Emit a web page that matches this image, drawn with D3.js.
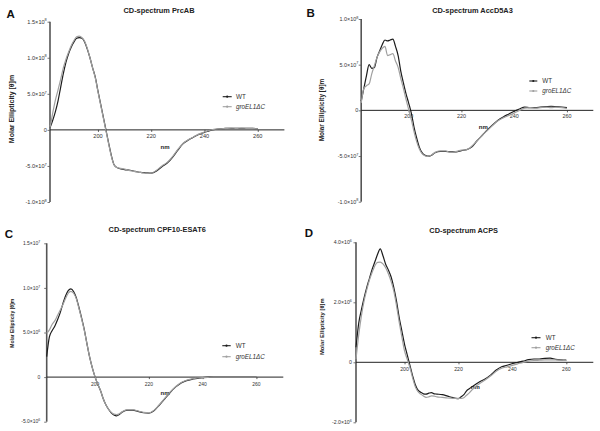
<!DOCTYPE html>
<html><head><meta charset="utf-8">
<script src="https://cdn.jsdelivr.net/npm/d3@7"></script>
<style>body{margin:0;background:#fff} svg{display:block} text{font-family:"Liberation Sans",Arial,sans-serif}</style>
</head><body><svg id="c" width="600" height="431"></svg>
<script>
// ---------- data ----------
const seriesNames = ["WT", "groEL1ΔC"];
const panelLetters = ["A", "B", "C", "D"];
const panelTitles = ["CD-spectrum PrcAB", "CD-spectrum AccD5A3", "CD-spectrum CPF10-ESAT6", "CD-spectrum ACPS"];
const xTicks = [200, 220, 240, 260];
const xDomain = [182, 270];

// Panel A (values x 1e7)
const nmA = [182,183,184,185,186,187,188,189,190,191,192,193,194,195,196,197,198,199,200,201,202,203,204,205,206,207,208,210,212,214,216,218,220,222,224,226,228,230,232,234,236,238,240,242,244,246,248,250,252,254,256,258,260];
const wtA = [0.3,1.3,2.5,4.0,5.9,7.8,9.4,10.6,11.5,12.2,12.7,12.8,12.7,12.2,11.2,10.0,8.6,7.3,5.4,3.6,1.8,0.0,-1.8,-3.5,-4.8,-5.2,-5.35,-5.5,-5.6,-5.75,-5.9,-5.95,-6.0,-5.7,-5.1,-4.6,-3.8,-2.8,-1.9,-1.4,-1.0,-0.6,-0.35,-0.1,0.05,0.15,0.2,0.2,0.2,0.2,0.2,0.2,0.15];
const grA = [0.3,2.3,4.1,5.5,7.0,8.6,9.8,10.8,11.7,12.4,12.9,13.0,12.8,12.3,11.3,10.0,8.6,7.2,5.3,3.5,1.7,-0.1,-1.9,-3.6,-4.8,-5.2,-5.3,-5.45,-5.65,-5.8,-5.9,-6.0,-6.0,-5.6,-5.0,-4.5,-3.7,-2.7,-1.85,-1.35,-0.95,-0.55,-0.3,-0.05,0.1,0.15,0.2,0.25,0.2,0.25,0.2,0.2,0.15];
const yTicksA = [-10, -5, 0, 5, 10, 15];
const yLabelsA = [["-1.0","8"],["-5.0","7"],["0",""],["5.0","7"],["1.0","8"],["1.5","8"]];

// Panel B (values x 1e7)
const nmB = [182,183,184,185,186,187,188,189,190,191,192,193,194,195,196,197,198,199,200,201,202,203,204,205,206,207,208,209,210,212,214,216,218,220,222,224,226,228,230,232,234,236,238,240,242,244,246,248,250,252,254,256,258,260];
const wtB = [1.0,2.4,3.8,5.0,4.6,4.7,5.8,6.5,7.2,7.7,7.6,7.7,7.8,7.0,6.0,4.3,3.0,1.8,0.8,-0.3,-1.8,-3.0,-4.0,-4.6,-4.9,-5.0,-5.0,-4.85,-4.65,-4.5,-4.5,-4.55,-4.55,-4.4,-4.3,-4.0,-3.3,-2.7,-2.1,-1.55,-1.05,-0.7,-0.4,-0.1,0.15,0.35,0.3,0.3,0.35,0.4,0.45,0.4,0.35,0.3];
const grB = [0.8,2.4,2.7,2.9,4.0,4.9,5.8,6.4,6.8,7.0,6.0,6.1,6.2,5.4,4.7,3.5,2.4,1.2,0.1,-1.0,-2.3,-3.4,-4.2,-4.7,-4.95,-5.05,-5.0,-4.8,-4.6,-4.45,-4.45,-4.6,-4.5,-4.35,-4.3,-3.9,-3.3,-2.7,-2.15,-1.6,-1.1,-0.8,-0.55,-0.3,0.0,0.25,0.3,0.25,0.3,0.35,0.3,0.35,0.3,0.2];
const yTicksB = [-10, -5, 0, 5, 10];
const yLabelsB = [["-1.0","8"],["-5.0","7"],["0",""],["5.0","7"],["1.0","8"]];

// Panel C (values x 1e6)
const nmC = [182,183,184,185,186,187,188,189,190,191,192,193,194,195,196,197,198,199,200,201,202,203,204,205,206,207,208,209,210,212,214,216,218,220,222,224,226,228,230,232,234,236,238,240,242,244,246,248,250,252,254,256,258,260];
const wtC = [2.3,4.5,5.2,5.7,6.4,7.2,8.2,9.1,9.7,9.9,9.6,8.9,7.8,6.6,5.3,3.7,2.2,1.0,0.0,-0.8,-1.5,-2.4,-3.1,-3.6,-4.0,-4.25,-4.35,-4.2,-3.95,-3.7,-3.7,-3.85,-4.0,-4.05,-3.75,-3.1,-2.4,-1.7,-1.1,-0.65,-0.4,-0.25,-0.15,-0.05,0,0,0,0,0,0,0,0,0,0];
const grC = [4.9,5.3,5.9,6.3,6.9,7.5,8.1,8.8,9.4,9.6,9.4,8.8,7.7,6.5,5.2,3.7,2.2,1.0,0.0,-0.8,-1.5,-2.4,-3.1,-3.6,-3.95,-4.15,-4.2,-4.1,-3.9,-3.65,-3.65,-3.8,-3.95,-4.0,-3.7,-3.05,-2.35,-1.65,-1.05,-0.6,-0.35,-0.2,-0.1,-0.05,-0.02,0,0,0,0,0,0,0,0,0];
const yTicksC = [-5, 0, 5, 10, 15];
const yLabelsC = [["-5.0","6"],["0",""],["5.0","6"],["1.0","7"],["1.5","7"]];

// Panel D (values x 1e6)
const nmD = [182,183,184,185,186,187,188,189,190,191,192,193,194,195,196,197,198,199,200,201,202,203,204,205,206,207,208,209,210,211,212,214,216,218,219,220,221,222,223,224,226,228,230,232,234,236,238,240,242,244,246,248,250,252,254,256,258,260];
const wtD = [0.5,1.3,1.75,2.15,2.5,2.8,3.1,3.35,3.6,3.78,3.55,3.27,3.08,2.85,2.5,2.05,1.5,1.05,0.6,0.25,-0.1,-0.45,-0.75,-0.93,-1.0,-1.05,-1.06,-1.03,-1.01,-1.05,-1.06,-1.08,-1.13,-1.18,-1.2,-1.21,-1.15,-1.08,-0.95,-0.88,-0.76,-0.64,-0.55,-0.42,-0.26,-0.15,-0.1,-0.04,0,0.04,0.09,0.11,0.11,0.13,0.14,0.1,0.08,0.07];
const grD = [0.1,0.9,1.55,2.05,2.42,2.75,3.0,3.22,3.33,3.34,3.28,3.15,2.95,2.7,2.38,1.9,1.35,0.85,0.38,0.1,-0.18,-0.52,-0.82,-0.98,-1.06,-1.12,-1.17,-1.15,-1.12,-1.13,-1.15,-1.17,-1.19,-1.2,-1.2,-1.2,-1.2,-1.18,-1.1,-1.02,-0.83,-0.7,-0.58,-0.45,-0.3,-0.2,-0.15,-0.1,-0.05,0,0.04,0.06,0.07,0.08,0.08,0.08,0.07,0.06];
const yTicksD = [-2, 0, 2, 4];
const yLabelsD = [["-2.0","6"],["0",""],["2.0","6"],["4.0","6"]];

// ---------- layout ----------
const panels = [
  {nm:nmA, wt:wtA, gr:grA, ticks:yTicksA, labels:yLabelsA, yDom:[-10,15],
   x0:50, x1:284.4, yTop:21.7, yBot:202, letter:[6.5,18.3], title:[159,12.7],
   ylab:[13.8,109,7], tickFs:5.6, tickRight:48.3, xlabDy:8, nmLab:[165,148.5], leg:[222.7,231.7,236,96.7,106.7]},
  {nm:nmB, wt:wtB, gr:grB, ticks:yTicksB, labels:yLabelsB, yDom:[-10,10],
   x0:361.2, x1:593.3, yTop:19, yBot:201.7, letter:[306.5,16.7], title:[472.5,12.5],
   ylab:[324.2,110,6.4], tickFs:5.4, tickRight:359.8, xlabDy:8, nmLab:[483.3,128.5], leg:[529.3,537.3,542.3,81,91]},
  {nm:nmC, wt:wtC, gr:grC, ticks:yTicksC, labels:yLabelsC, yDom:[-5,15],
   x0:46.7, x1:283.3, yTop:243.3, yBot:421.7, letter:[4.8,237.7], title:[157.2,232.3],
   ylab:[14.4,323.3,5.0], tickFs:5.0, tickRight:41.8, xlabDy:8.5, nmLab:[165,395], leg:[222.3,230.7,235.7,345.7,356.7]},
  {nm:nmD, wt:wtD, gr:grD, ticks:yTicksD, labels:yLabelsD, yDom:[-2,4],
   x0:356, x1:593.3, yTop:242.3, yBot:422.3, letter:[304.8,236.7], title:[463.7,233.3],
   ylab:[323.5,326.7,5.8], tickFs:5.2, tickRight:353.3, xlabDy:8.5, nmLab:[475.3,388.5], leg:[531.5,540.5,545.7,337.7,347.7]}
];

const svg = d3.select("#c");
const wtColor = "#1c1c1c", grColor = "#a0a0a0";

panels.forEach((p, i) => {
  const g = svg.append("g");
  const x = d3.scaleLinear().domain(xDomain).range([p.x0, p.x1]);
  const y = d3.scaleLinear().domain(p.yDom).range([p.yBot, p.yTop]);

  g.append("text").attr("x", p.letter[0]).attr("y", p.letter[1])
    .attr("font-size", 11.5).attr("font-weight", "bold").attr("fill", "#111").text(panelLetters[i]);
  g.append("text").attr("x", p.title[0]).attr("y", p.title[1]).attr("text-anchor", "middle")
    .attr("font-size", 7.4).attr("font-weight", "bold").attr("fill", "#222").text(panelTitles[i]);

  const yAxis = d3.axisLeft(y).tickValues(p.ticks).tickSize(2.5).tickFormat("");
  const ya = g.append("g").attr("transform", `translate(${p.x0},0)`).call(yAxis);
  ya.select(".domain").attr("stroke", "#555").attr("stroke-width", 1.6).attr("d", `M0,${p.yTop}V${p.yBot}`);
  ya.selectAll(".tick line").attr("stroke", "#555").attr("stroke-width", 0.8);
  p.ticks.forEach((t, k) => {
    const lab = p.labels[k];
    const tx = g.append("text").attr("x", p.tickRight - 1.5).attr("y", y(t) + p.tickFs * 0.35)
      .attr("text-anchor", "end").attr("font-size", p.tickFs).attr("fill", "#333");
    if (lab[1] === "") { tx.text(lab[0]); }
    else {
      tx.append("tspan").text(lab[0] + "×10");
      tx.append("tspan").attr("dy", -p.tickFs * 0.4).attr("font-size", p.tickFs * 0.7).text(lab[1]);
    }
  });

  const xAxis = d3.axisBottom(x).tickValues(xTicks).tickSize(2).tickFormat("");
  const xa = g.append("g").attr("transform", `translate(0,${y(0)})`).call(xAxis);
  xa.select(".domain").attr("stroke", "#222").attr("stroke-width", 1).attr("d", `M${p.x0},0H${p.x1}`);
  xa.selectAll(".tick line").attr("stroke", "#333").attr("stroke-width", 0.8);
  xTicks.forEach(t => {
    g.append("text").attr("x", x(t)).attr("y", y(0) + p.xlabDy).attr("text-anchor", "middle")
      .attr("font-size", p.tickFs).attr("fill", "#333").text(t);
  });
  g.append("text").attr("x", p.nmLab[0]).attr("y", p.nmLab[1]).attr("text-anchor", "middle")
    .attr("font-size", 6).attr("font-weight", "bold").attr("fill", "#222").text("nm");

  g.append("text").attr("transform", `translate(${p.ylab[0]},${p.ylab[1]}) rotate(-90)`)
    .attr("text-anchor", "middle").attr("font-size", p.ylab[2]).attr("font-weight", "bold").attr("fill", "#222")
    .text("Molar Ellipticity [θ]m");

  const line = d3.line().x(d => x(d[0])).y(d => y(d[1])).curve(d3.curveMonotoneX);
  const grData = p.nm.map((n, k) => [n, p.gr[k]]);
  const wtData = p.nm.map((n, k) => [n, p.wt[k]]);
  g.append("path").attr("d", line(wtData)).attr("fill", "none").attr("stroke", wtColor).attr("stroke-width", 1.2);
  g.append("path").attr("d", line(grData)).attr("fill", "none").attr("stroke", grColor).attr("stroke-width", 1.2);

  const L = p.leg;
  [[wtColor, L[3]], [grColor, L[4]]].forEach(([c, ly], k) => {
    g.append("line").attr("x1", L[0]).attr("x2", L[1]).attr("y1", ly).attr("y2", ly)
      .attr("stroke", c).attr("stroke-width", 1.1);
    g.append("circle").attr("cx", (L[0] + L[1]) / 2).attr("cy", ly).attr("r", 1.1).attr("fill", c);
    g.append("text").attr("x", L[2]).attr("y", ly + 2.2).attr("font-size", 6.3)
      .attr("font-style", k === 1 ? "italic" : "normal").attr("fill", "#333").text(seriesNames[k]);
  });
});
</script>
</body></html>
